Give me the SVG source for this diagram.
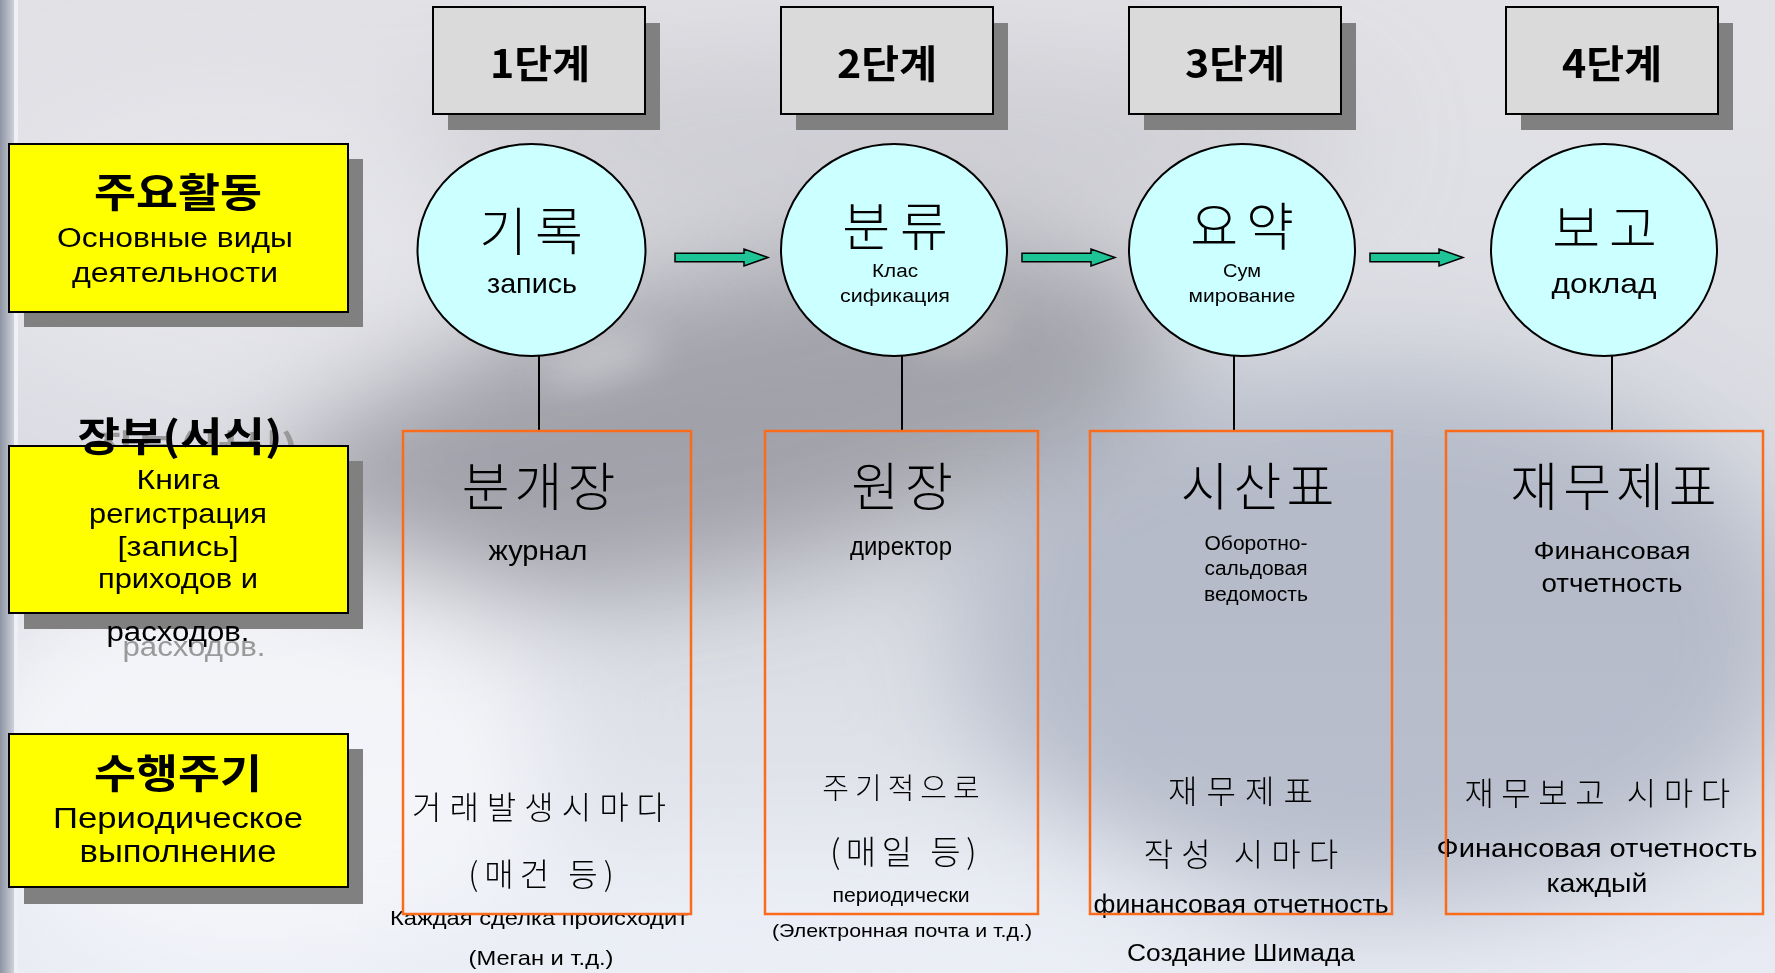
<svg xmlns="http://www.w3.org/2000/svg" width="1775" height="973" viewBox="0 0 1775 973">
<defs>
<style>
.kr{font-family:"Noto Sans CJK KR","Noto Sans",sans-serif;text-anchor:middle;font-weight:300;fill:#000}
.krb{font-family:"Noto Sans CJK KR","Noto Sans",sans-serif;text-anchor:middle;font-weight:700;fill:#000}
.kl{font-family:"Noto Sans CJK KR","Noto Sans",sans-serif;text-anchor:middle;font-weight:300;fill:#000}
.ru{font-family:"Liberation Sans",Arial,sans-serif;text-anchor:middle;fill:#000}
.ghost{fill:#999999}
.stage{fill:#dadada;stroke:#000;stroke-width:2}
.yel{fill:#ffff00;stroke:#000;stroke-width:2}
.shd{fill:#808080}
.circ{fill:#ccffff;stroke:#000;stroke-width:2}
.obox{fill:none;stroke:#fb6b1c;stroke-width:2.5}
.link{stroke:#000;stroke-width:2;fill:none}
.arr{fill:#1fc496;stroke:#000;stroke-width:1.5;stroke-linejoin:miter}
</style>
<filter id="blur" filterUnits="userSpaceOnUse" x="-300" y="-300" width="2400" height="1600">
<feGaussianBlur stdDeviation="55"/>
</filter>
<filter id="blur2" filterUnits="userSpaceOnUse" x="-300" y="-300" width="2400" height="1600">
<feGaussianBlur stdDeviation="20"/>
</filter>
<linearGradient id="bg" x1="0" y1="0" x2="0" y2="1">
<stop offset="0" stop-color="#e2e2e6"/>
<stop offset="0.6" stop-color="#d9dbe2"/>
<stop offset="1" stop-color="#e8ebf3"/>
</linearGradient>
<linearGradient id="edge" x1="0" y1="0" x2="1" y2="0">
<stop offset="0" stop-color="#8e94a2"/>
<stop offset="1" stop-color="#cdd1da"/>
</linearGradient>
<path id="arrowShape" d="M0,-4.3 H69 V-8.4 L93,0 L69,8.4 V4.3 H0 Z"/>
</defs>

<g id="background">
<rect x="0" y="0" width="1775" height="973" fill="url(#bg)"/>
<g filter="url(#blur)">
<ellipse cx="880" cy="140" rx="480" ry="90" fill="#bdbdc4" opacity="0.5"/>
<ellipse cx="720" cy="420" rx="470" ry="150" transform="rotate(-12 720 420)" fill="#7c7c84" opacity="0.6"/>
<ellipse cx="1380" cy="640" rx="420" ry="270" fill="#98a0b2" opacity="0.55"/>
<ellipse cx="250" cy="760" rx="300" ry="220" fill="#f8f9fd" opacity="0.8"/>
<ellipse cx="800" cy="930" rx="420" ry="80" fill="#eef1f8" opacity="0.7"/>
<ellipse cx="220" cy="250" rx="260" ry="160" fill="#eaeaee" opacity="0.6"/>
</g>
<g filter="url(#blur2)" opacity="0.5">
<ellipse cx="600" cy="360" rx="60" ry="14" fill="#ffffff" transform="rotate(-15 600 360)"/>
<ellipse cx="960" cy="330" rx="50" ry="12" fill="#f4f0e4" transform="rotate(-15 960 330)"/>
</g>
<rect x="0" y="0" width="14" height="973" fill="url(#edge)"/>
<rect x="14" y="0" width="4" height="973" fill="#eef0f6"/>
</g>

<g id="stage1">
<rect class="shd" x="448" y="23" width="212" height="107"/>
<rect class="stage" x="433" y="7" width="212" height="107"/>
<text class="krb" x="540" y="78" font-size="39" textLength="100" lengthAdjust="spacingAndGlyphs">1단계</text>
</g>
<g id="stage2">
<rect class="shd" x="796" y="23" width="212" height="107"/>
<rect class="stage" x="781" y="7" width="212" height="107"/>
<text class="krb" x="887" y="78" font-size="39" textLength="100" lengthAdjust="spacingAndGlyphs">2단계</text>
</g>
<g id="stage3">
<rect class="shd" x="1144" y="23" width="212" height="107"/>
<rect class="stage" x="1129" y="7" width="212" height="107"/>
<text class="krb" x="1235" y="78" font-size="39" textLength="100" lengthAdjust="spacingAndGlyphs">3단계</text>
</g>
<g id="stage4">
<rect class="shd" x="1521" y="23" width="212" height="107"/>
<rect class="stage" x="1506" y="7" width="212" height="107"/>
<text class="krb" x="1612" y="78" font-size="39" textLength="100" lengthAdjust="spacingAndGlyphs">4단계</text>
</g>

<g id="label-activity">
<rect class="shd" x="24" y="159" width="339" height="168"/>
<rect class="yel" x="9" y="144" width="339" height="168"/>
<text class="krb" x="178" y="207" font-size="40" textLength="168" lengthAdjust="spacingAndGlyphs">주요활동</text>
<text class="ru" x="175" y="247" font-size="27" textLength="236" lengthAdjust="spacingAndGlyphs">Основные виды</text>
<text class="ru" x="175" y="282" font-size="28" textLength="206" lengthAdjust="spacingAndGlyphs">деятельности</text>
</g>

<g id="label-ledger">
<text class="krb ghost" x="196" y="464" font-size="40" textLength="205" lengthAdjust="spacingAndGlyphs">장부(서식)</text>
<text class="ru ghost" x="194" y="656" font-size="28" textLength="143" lengthAdjust="spacingAndGlyphs">расходов.</text>
<rect class="shd" x="24" y="461" width="339" height="168"/>
<rect class="yel" x="9" y="446" width="339" height="167"/>
<text class="krb" x="180" y="451" font-size="40" textLength="205" lengthAdjust="spacingAndGlyphs">장부(서식)</text>
<text class="ru" x="178" y="489" font-size="27" textLength="83" lengthAdjust="spacingAndGlyphs">Книга</text>
<text class="ru" x="178" y="523" font-size="28" textLength="178" lengthAdjust="spacingAndGlyphs">регистрация</text>
<text class="ru" x="178" y="556" font-size="28" textLength="121" lengthAdjust="spacingAndGlyphs">[запись]</text>
<text class="ru" x="178" y="588" font-size="28" textLength="160" lengthAdjust="spacingAndGlyphs">приходов и</text>
<text class="ru" x="178" y="641" font-size="28" textLength="143" lengthAdjust="spacingAndGlyphs">расходов.</text>
</g>

<g id="label-cycle">
<rect class="shd" x="24" y="749" width="339" height="155"/>
<rect class="yel" x="9" y="734" width="339" height="153"/>
<text class="krb" x="178" y="788" font-size="40" textLength="168" lengthAdjust="spacingAndGlyphs">수행주기</text>
<text class="ru" x="178" y="828" font-size="30" textLength="250" lengthAdjust="spacingAndGlyphs">Периодическое</text>
<text class="ru" x="178" y="862" font-size="31" textLength="197" lengthAdjust="spacingAndGlyphs">выполнение</text>
</g>

<g id="connectors">
<line class="link" x1="539" y1="356" x2="539" y2="431"/>
<line class="link" x1="902" y1="356" x2="902" y2="431"/>
<line class="link" x1="1234" y1="356" x2="1234" y2="431"/>
<line class="link" x1="1612" y1="356" x2="1612" y2="431"/>
<use href="#arrowShape" class="arr" x="675" y="257.5"/>
<use href="#arrowShape" class="arr" x="1022" y="257.5"/>
<use href="#arrowShape" class="arr" x="1370" y="257.5"/>
</g>

<g id="step-record">
<ellipse class="circ" cx="531.5" cy="250" rx="114" ry="106"/>
<text class="kr" x="535" y="251" font-size="52" letter-spacing="8">기록</text>
<text class="ru" x="532" y="293" font-size="28" textLength="90" lengthAdjust="spacingAndGlyphs">запись</text>
</g>
<g id="step-classify">
<ellipse class="circ" cx="894" cy="250" rx="113" ry="106"/>
<text class="kr" x="900" y="246" font-size="52" letter-spacing="10">분류</text>
<text class="ru" x="895" y="277" font-size="18" textLength="46" lengthAdjust="spacingAndGlyphs">Клас</text>
<text class="ru" x="895" y="302" font-size="19" textLength="110" lengthAdjust="spacingAndGlyphs">сификация</text>
</g>
<g id="step-summary">
<ellipse class="circ" cx="1242" cy="250" rx="113" ry="106"/>
<text class="kr" x="1246" y="246" font-size="52" letter-spacing="8">요약</text>
<text class="ru" x="1242" y="277" font-size="18" textLength="38" lengthAdjust="spacingAndGlyphs">Сум</text>
<text class="ru" x="1242" y="302" font-size="19" textLength="107" lengthAdjust="spacingAndGlyphs">мирование</text>
</g>
<g id="step-report">
<ellipse class="circ" cx="1604" cy="250" rx="113" ry="106"/>
<text class="kr" x="1609" y="248" font-size="52" letter-spacing="9">보고</text>
<text class="ru" x="1604" y="293" font-size="28" textLength="105" lengthAdjust="spacingAndGlyphs">доклад</text>
</g>

<g id="book-journal">
<text class="kr" x="541" y="506" font-size="52" letter-spacing="5">분개장</text>
<text class="ru" x="538" y="560" font-size="28" textLength="99" lengthAdjust="spacingAndGlyphs">журнал</text>
<text class="kl" x="543" y="819" font-size="32" letter-spacing="8">거래발생시마다</text>
<text class="kl" x="544" y="886" font-size="32" letter-spacing="6">(매건 등)</text>
<text class="ru" x="539" y="925" font-size="21" textLength="298" lengthAdjust="spacingAndGlyphs">Каждая сделка происходит</text>
<text class="ru" x="541" y="965" font-size="21" textLength="145" lengthAdjust="spacingAndGlyphs">(Меган и т.д.)</text>
<rect class="obox" x="403" y="431" width="288" height="483"/>
</g>
<g id="book-ledger">
<text class="kr" x="905" y="506" font-size="52" letter-spacing="6">원장</text>
<text class="ru" x="901" y="555" font-size="26" textLength="102" lengthAdjust="spacingAndGlyphs">директор</text>
<text class="kl" x="904" y="799" font-size="29" letter-spacing="6">주기적으로</text>
<text class="kl" x="906" y="864" font-size="33" letter-spacing="5.5">(매일 등)</text>
<text class="ru" x="901" y="902" font-size="21" textLength="137" lengthAdjust="spacingAndGlyphs">периодически</text>
<text class="ru" x="902" y="937" font-size="19" textLength="260" lengthAdjust="spacingAndGlyphs">(Электронная почта и т.д.)</text>
<rect class="obox" x="765" y="431" width="273" height="483"/>
</g>
<g id="book-trial">
<text class="kr" x="1260" y="506" font-size="52" letter-spacing="5">시산표</text>
<text class="ru" x="1256" y="550" font-size="20" textLength="103" lengthAdjust="spacingAndGlyphs">Оборотно-</text>
<text class="ru" x="1256" y="575" font-size="20" textLength="103" lengthAdjust="spacingAndGlyphs">сальдовая</text>
<text class="ru" x="1256" y="601" font-size="20" textLength="104" lengthAdjust="spacingAndGlyphs">ведомость</text>
<text class="kl" x="1245" y="803" font-size="32" letter-spacing="9">재무제표</text>
<text class="kl" x="1245" y="866" font-size="32" letter-spacing="8">작성 시마다</text>
<text class="ru" x="1241" y="913" font-size="25" textLength="295" lengthAdjust="spacingAndGlyphs">финансовая отчетность</text>
<text class="ru" x="1241" y="961" font-size="23" textLength="228" lengthAdjust="spacingAndGlyphs">Создание Шимада</text>
<rect class="obox" x="1090" y="431" width="302" height="483"/>
</g>
<g id="book-statements">
<text class="kr" x="1616" y="506" font-size="52" letter-spacing="5">재무제표</text>
<text class="ru" x="1612" y="559" font-size="24" textLength="157" lengthAdjust="spacingAndGlyphs">Финансовая</text>
<text class="ru" x="1612" y="592" font-size="25" textLength="141" lengthAdjust="spacingAndGlyphs">отчетность</text>
<text class="kl" x="1601" y="805" font-size="32" letter-spacing="7.5">재무보고 시마다</text>
<text class="ru" x="1597" y="857" font-size="25" textLength="321" lengthAdjust="spacingAndGlyphs">Финансовая отчетность</text>
<text class="ru" x="1597" y="892" font-size="26" textLength="101" lengthAdjust="spacingAndGlyphs">каждый</text>
<rect class="obox" x="1446" y="431" width="317" height="483"/>
</g>
</svg>
